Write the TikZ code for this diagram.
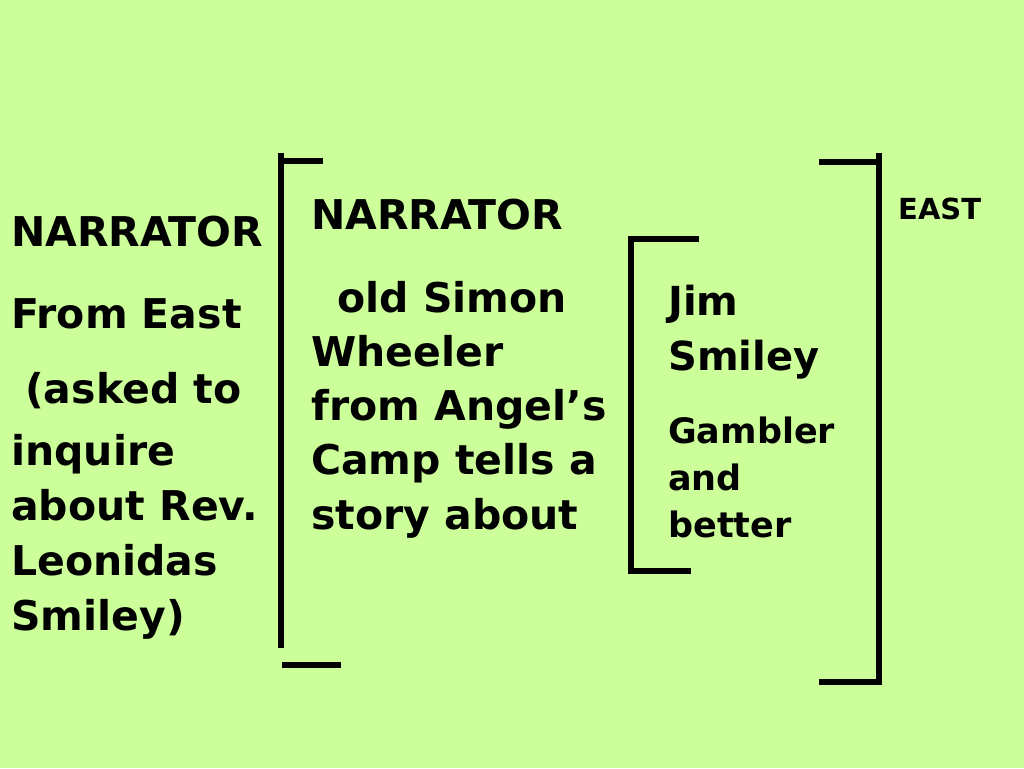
\documentclass[tikz,border=0pt]{standalone}
\usepackage{fontspec}
\setmainfont{DejaVu Sans}
\definecolor{bg}{HTML}{CCFF99}
\begin{document}
\begin{tikzpicture}[x=1pt,y=-1pt,
  txt/.style={anchor=base west,inner sep=0pt,font=\fontsize{41}{49}\selectfont\bfseries},
  txtm/.style={anchor=base west,inner sep=0pt,font=\fontsize{40}{48}\selectfont\bfseries},
  txts/.style={anchor=base west,inner sep=0pt,font=\fontsize{35}{42}\selectfont\bfseries},
  txtxs/.style={anchor=base west,inner sep=0pt,font=\fontsize{29}{35}\selectfont\bfseries},
  brk/.style={line width=6pt,line cap=butt}]
\fill[bg] (0,0) rectangle (1024,768);
\useasboundingbox (0,0) rectangle (1024,768);
% left column
\node[txt] (l1) at (11,246) {NARRATOR};
\node[txt] (l2) at (11,328) {From East};
\node[txt] (l3) at (25,403) {(asked to};
\node[txt] (l4) at (11,465) {inquire};
\node[txt] (l5) at (11,520) {about Rev.};
\node[txt] (l6) at (11,575) {Leonidas};
\node[txt] (l7) at (11,630) {Smiley)};
% middle column
\node[txt] (m1) at (311,229) {NARRATOR};
\node[txt] (m2) at (337,312) {old Simon};
\node[txt] (m3) at (311,366) {Wheeler};
\node[txt] (m4) at (311,420) {from Angel’s};
\node[txt] (m5) at (311,474) {Camp tells a};
\node[txt] (m6) at (311,529) {story about};
% right column
\node[txtm] (r1) at (668,315) {Jim};
\node[txtm] (r2) at (668,370) {Smiley};
\node[txts] (r3) at (668,443) {Gambler};
\node[txts] (r4) at (668,490) {and};
\node[txts] (r5) at (668,537) {better};
\node[txtxs] (east) at (898,219) {EAST};
% bracket 1
\draw[brk] (281,153) -- (281,648);
\draw[brk] (281,161) -- (323,161);
\draw[brk] (282,665) -- (341,665);
% bracket 2
\draw[brk,line join=miter] (699,239) -- (631,239) -- (631,571) -- (691,571);
% bracket 3
\draw[brk] (819,162) -- (879,162);
\draw[brk,line join=miter] (879,153) -- (879,682) -- (819,682);
\end{tikzpicture}
\end{document}
